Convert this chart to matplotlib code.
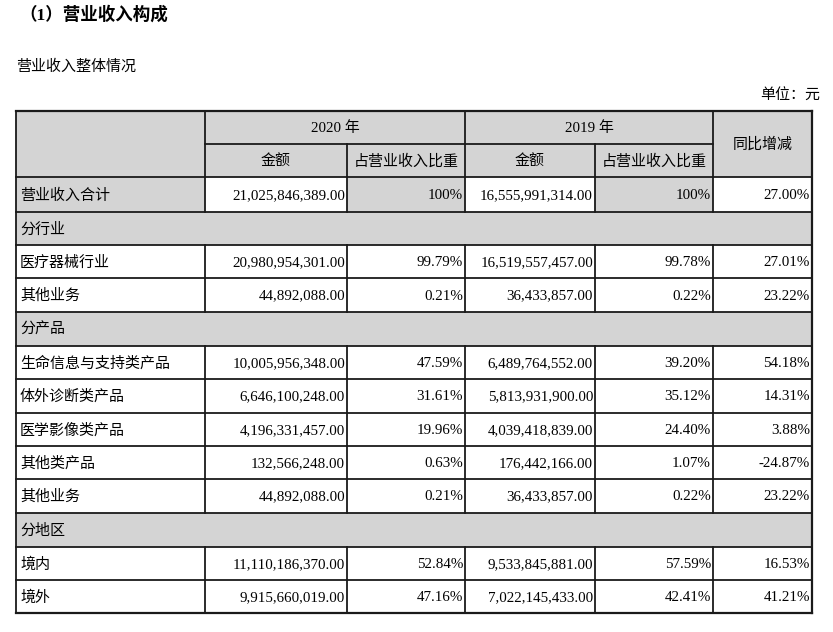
import matplotlib
matplotlib.use("Agg")
import matplotlib.pyplot as plt
from matplotlib.patches import Rectangle

plt.rcParams['font.family'] = ['Liberation Serif', 'Noto Sans CJK SC', 'DejaVu Sans']

title = "（1）营业收入构成"
subtitle = "营业收入整体情况"
unit = "单位：元"
years = ["2020 年", "2019 年"]
sub_headers = ["金额", "占营业收入比重"]
change_header = "同比增减"

# row kinds: 'total', 'section', 'data'
row_kinds = ["total", "section", "data", "data", "section", "data", "data", "data", "data", "data",
             "section", "data", "data"]
row_labels = ["营业收入合计", "分行业", "医疗器械行业", "其他业务", "分产品", "生命信息与支持类产品",
              "体外诊断类产品", "医学影像类产品", "其他类产品", "其他业务", "分地区", "境内", "境外"]
amount_2020 = ["21,025,846,389.00", "", "20,980,954,301.00", "44,892,088.00", "", "10,005,956,348.00",
               "6,646,100,248.00", "4,196,331,457.00", "132,566,248.00", "44,892,088.00", "",
               "11,110,186,370.00", "9,915,660,019.00"]
share_2020 = ["100%", "", "99.79%", "0.21%", "", "47.59%", "31.61%", "19.96%", "0.63%", "0.21%", "",
              "52.84%", "47.16%"]
amount_2019 = ["16,555,991,314.00", "", "16,519,557,457.00", "36,433,857.00", "", "6,489,764,552.00",
               "5,813,931,900.00", "4,039,418,839.00", "176,442,166.00", "36,433,857.00", "",
               "9,533,845,881.00", "7,022,145,433.00"]
share_2019 = ["100%", "", "99.78%", "0.22%", "", "39.20%", "35.12%", "24.40%", "1.07%", "0.22%", "",
              "57.59%", "42.41%"]
yoy_change = ["27.00%", "", "27.01%", "23.22%", "", "54.18%", "14.31%", "3.88%", "-24.87%", "23.22%", "",
              "16.53%", "41.21%"]

W, H = 833, 632
fig = plt.figure(figsize=(W / 100, H / 100), dpi=100)
ax = fig.add_axes([0, 0, 1, 1])
ax.set_xlim(0, W)
ax.set_ylim(H, 0)
ax.axis('off')

GRAY = "#d4d4d4"
LC = "#1a1a1a"
FS = 10.8

col_x = [16, 205, 347, 465, 595, 713, 812]
y_top = 111
y_h1 = 144
y_h2 = 177
row_y = [177, 212, 245, 278, 312, 346, 379, 413, 446, 479, 513, 547, 580, 613]

ax.text(19, 15, title, fontsize=12.6, fontweight='bold', va='center', ha='left')
ax.text(16, 67, subtitle, fontsize=FS, va='center', ha='left')
ax.text(820, 96, unit, fontsize=FS, va='center', ha='right')

def rect(x0, y0, x1, y1, color):
    ax.add_patch(Rectangle((x0, y0), x1 - x0, y1 - y0, facecolor=color, edgecolor='none', zorder=1))

# header background
rect(col_x[0], y_top, col_x[-1], y_h2, GRAY)

# body rows
columns = [amount_2020, share_2020, amount_2019, share_2019, yoy_change]
for i, kind in enumerate(row_kinds):
    y0, y1 = row_y[i], row_y[i + 1]
    yc = (y0 + y1) / 2 + 1
    if kind == 'section':
        rect(col_x[0], y0, col_x[-1], y1, GRAY)
    elif kind == 'total':
        rect(col_x[0], y0, col_x[1], y1, GRAY)
        rect(col_x[2], y0, col_x[3], y1, GRAY)
        rect(col_x[4], y0, col_x[5], y1, GRAY)
    ax.text(col_x[0] + 4, yc, row_labels[i], fontsize=FS, va='center', ha='left', zorder=3)
    if kind != 'section':
        for j, col in enumerate(columns):
            ax.text(col_x[j + 2] - 2, yc, col[i], fontsize=FS, va='center', ha='right', zorder=3)

# header text
ax.text((col_x[1] + col_x[3]) / 2, (y_top + y_h1) / 2 + 1, years[0], fontsize=FS, ha='center', va='center', zorder=3)
ax.text((col_x[3] + col_x[5]) / 2, (y_top + y_h1) / 2 + 1, years[1], fontsize=FS, ha='center', va='center', zorder=3)
for j in range(4):
    ax.text((col_x[j + 1] + col_x[j + 2]) / 2, (y_h1 + y_h2) / 2 + 1, sub_headers[j % 2], fontsize=FS,
            ha='center', va='center', zorder=3)
ax.text((col_x[5] + col_x[6]) / 2, (y_top + y_h2) / 2, change_header, fontsize=FS, ha='center', va='center', zorder=3)

# lines
lw = 1.3
def hline(y, x0, x1, w=lw):
    ax.plot([x0, x1], [y, y], color=LC, lw=w, zorder=4, solid_capstyle='projecting')
def vline(x, y0, y1, w=lw):
    ax.plot([x, x], [y0, y1], color=LC, lw=w, zorder=4, solid_capstyle='projecting')

hline(y_top, col_x[0], col_x[-1], 1.6)
hline(y_h1, col_x[1], col_x[5])
for i, y in enumerate(row_y):
    hline(y, col_x[0], col_x[-1], 1.6 if i == len(row_y) - 1 else lw)
vline(col_x[0], y_top, row_y[-1])
vline(col_x[-1], y_top, row_y[-1], 1.6)
vline(col_x[1], y_top, row_y[0])
vline(col_x[3], y_top, row_y[0])
vline(col_x[5], y_top, row_y[0])
vline(col_x[2], y_h1, row_y[0])
vline(col_x[4], y_h1, row_y[0])
for i, kind in enumerate(row_kinds):
    if kind != 'section':
        for x in col_x[1:-1]:
            vline(x, row_y[i], row_y[i + 1])

fig.savefig("out.png", dpi=100)
